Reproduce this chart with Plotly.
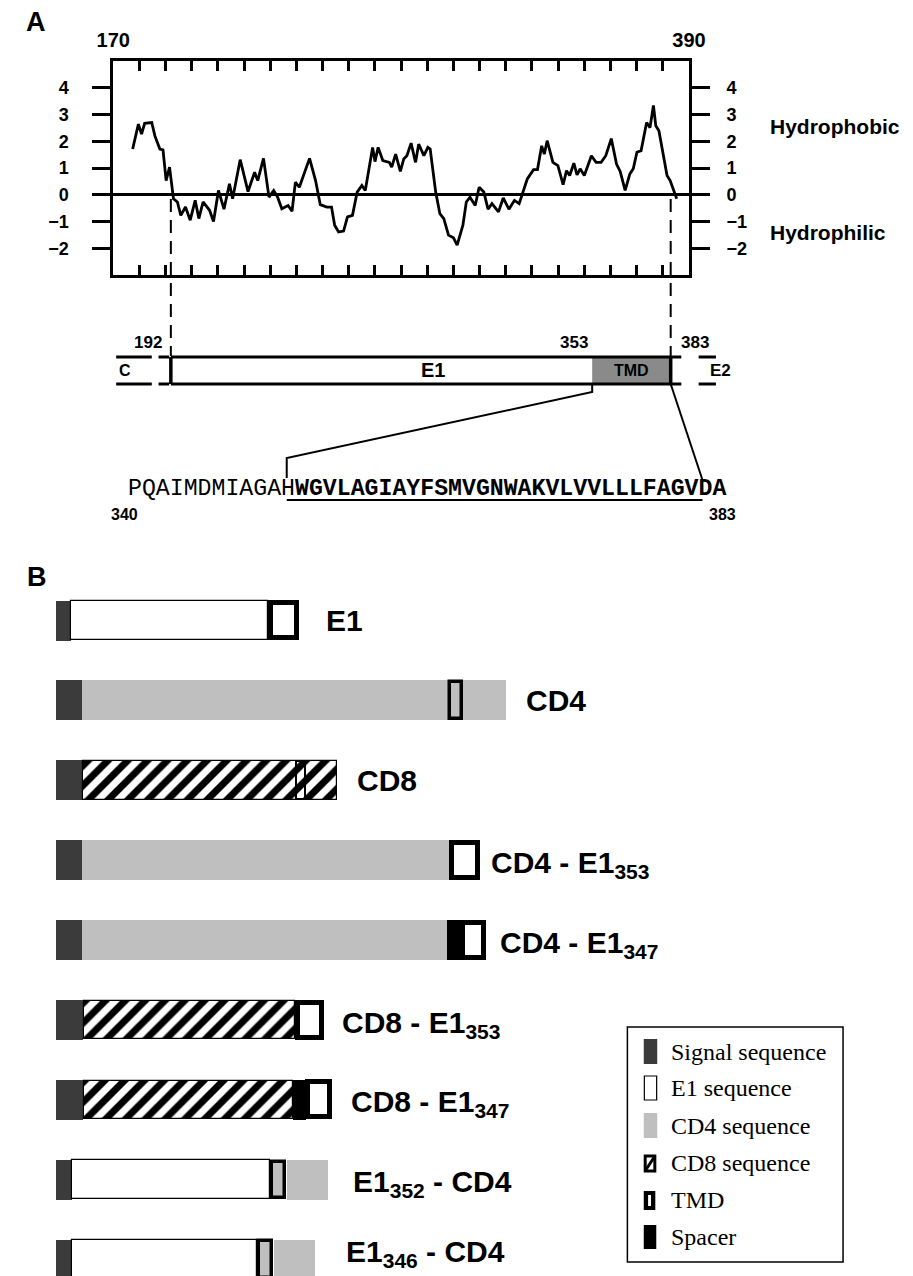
import plotly.graph_objects as go

W, H = 913, 1276
SANS = "Liberation Sans, Arial, Helvetica, sans-serif"
SERIF = "Liberation Serif, Times New Roman, serif"
MONO = "Liberation Mono, Courier New, monospace"

# ---------------- Panel A: hydropathy profile ----------------
hyd_res = [177.4, 179.6, 180.8, 182.0, 184.7, 185.9, 187.8, 189.0, 190.2, 191.5,
           193.0, 194.5, 195.8, 197.6, 199.4, 201.3, 202.7, 204.3, 206.8, 208.3,
           210.2, 212.3, 214.4, 215.6, 218.5, 221.5, 224.0, 225.2, 227.4, 229.5,
           231.3, 232.8, 234.4, 236.8, 238.3, 239.6, 241.1, 245.0, 247.3, 249.1,
           251.6, 253.4, 254.6, 256.1, 258.0, 259.5, 261.4, 263.2, 265.0, 266.3,
           269.1, 270.0, 271.2, 273.0, 275.5, 276.4, 277.9, 279.7, 281.0, 282.2,
           283.8, 285.5, 286.7, 288.7, 290.2, 291.1, 293.2, 294.8, 296.3, 298.1,
           300.0, 301.4, 303.6, 304.9, 306.3, 308.3, 309.8, 311.6, 313.2, 314.7,
           317.2, 319.0, 321.2, 323.3, 325.1, 328.2, 330.6, 332.1, 333.7, 334.7,
           335.8, 338.0, 339.9, 341.9, 343.2, 344.4, 346.0, 347.2, 348.4, 350.0,
           352.7, 354.5, 356.4, 358.2, 360.3, 362.3, 363.7, 365.6, 367.4, 368.7,
           370.1, 371.7, 373.8, 375.1, 376.4, 377.3, 378.5, 381.6, 382.8, 384.6,
           385.3]
hyd_val = [1.71, 2.64, 2.27, 2.67, 2.70, 2.20, 1.71, 1.68, 0.53, 1.03,
           -0.15, -0.27, -0.77, -0.46, -0.95, -0.21, -0.89, -0.27, -0.58, -1.00,
           0.16, -0.54, 0.41, -0.15, 1.31, 0.12, 0.84, 0.53, 1.36, -0.09,
           0.16, -0.09, -0.52, -0.40, -0.62, 0.47, 0.28, 1.36, 0.53, -0.37,
           -0.46, -0.46, -1.14, -1.39, -1.36, -0.83, -0.77, 0.10, 0.35, 0.16,
           1.77, 1.24, 1.77, 1.28, 1.21, 1.03, 1.52, 0.87, 1.34, 1.46,
           1.93, 1.21, 1.89, 1.46, 1.77, 1.71, 0.10, -0.71, -0.89, -1.51,
           -1.61, -1.88, -1.14, -0.27, -0.09, -0.40, 0.28, 0.10, -0.54, -0.33,
           -0.64, -0.12, -0.54, -0.21, -0.33, 0.59, 0.94, 0.94, 1.83, 1.52,
           2.02, 1.21, 1.09, 0.38, 0.90, 0.72, 1.18, 0.74, 0.97, 0.72,
           1.46, 1.21, 1.21, 1.46, 2.10, 1.15, 0.87, 0.16, 0.78, 0.97,
           1.59, 1.65, 2.70, 2.51, 3.34, 2.58, 2.39, 0.72, 0.53, -0.02,
           -0.15]
res_range = [170, 390]
hyd_range = [-3, 5]
hyd_ticks = [-2, -1, 0, 1, 2, 3, 4]
res_label_vals = [170, 390]
res_label_text = ["170", "390"]
res_minor_ticks = [180, 190, 200, 210, 220, 230, 240, 250, 260, 270, 280,
                   290, 300, 310, 320, 330, 340, 350, 360, 370, 380]
side_labels = ["Hydrophobic", "Hydrophilic"]

# E1 region map (residue boundaries)
map_bounds = [192, 353, 383]
map_names = ["C", "E1", "TMD", "E2"]
seq_plain = "PQAIMDMIAGAH"
seq_tmd = "WGVLAGIAYFSMVGNWAKVLVVLLLFAGVDA"
seq_ends = ["340", "383"]

# ---------------- Panel B: constructs ----------------
constructs = ["E1", "CD4", "CD8",
              "CD4 - E1<sub>353</sub>", "CD4 - E1<sub>347</sub>",
              "CD8 - E1<sub>353</sub>", "CD8 - E1<sub>347</sub>",
              "E1<sub>352</sub> - CD4", "E1<sub>346</sub> - CD4"]
signal_row = [0, 1, 2, 3, 4, 5, 6, 7, 8]
signal_start = [0, 0, 0, 0, 0, 0, 0, 0, 0]
signal_end = [15, 27, 27, 27, 27, 28, 28, 16, 16]
e1_row = [0, 7, 8]
e1_start = [15, 16, 16]
e1_end = [220, 222, 209]
cd4_row = [1, 3, 4, 7, 8]
cd4_start = [27, 27, 27, 239, 226]
cd4_end = [467, 408, 406, 282, 269]
cd8_row = [2, 5, 6]
cd8_start = [27, 28, 28]
cd8_end = [292, 248, 246]
spacer_row = [4, 6]
spacer_start = [406, 246]
spacer_end = [420, 259]
tmdE1_row = [0, 3, 4, 5, 6]
tmdE1_start = [220, 408, 420, 248, 259]
tmdE1_end = [252, 440, 447, 278, 287]
tmdCD4_row = [1, 7, 8]
tmdCD4_start = [407, 222, 209]
tmdCD4_end = [423, 239, 226]
tmdCD8_row = [2]
tmdCD8_start = [248]
tmdCD8_end = [259]
label_gap = [26, 19, 18, 9, 12, 17, 17, 24, 30]

legend_names = ["Signal sequence", "E1 sequence", "CD4 sequence",
                "CD8 sequence", "TMD", "Spacer"]

# ---------------- colours / geometry ----------------
C_SIGNAL = "#3b3b3b"
C_CD4 = "#bfbfbf"
C_TMDMAP = "#8a8a8a"

A_LEFT, A_RIGHT, A_TOP, A_BOTTOM = 100, 698, 61, 275
PPR = (A_RIGHT - A_LEFT) / (res_range[1] - res_range[0])
MAP_TOP, MAP_BOT = 357, 384
B_ORIGIN = 41
ROW0, PITCH, BAR_H = 620.5, 79.9, 40


def res_at(px):
    return res_range[0] + (px - A_LEFT) / PPR


def fx(px):
    return px / W


def fy(py):
    return 1 - py / H


fig = go.Figure()

# hydropathy curve
fig.add_trace(go.Scatter(x=hyd_res, y=hyd_val, mode="lines",
                         line=dict(color="black", width=2.8),
                         xaxis="x", yaxis="y", hoverinfo="skip"))
# helper invisible traces so the auxiliary axes exist
fig.add_trace(go.Scatter(x=[res_range[0]], y=[0], mode="markers",
                         marker=dict(opacity=0), xaxis="x", yaxis="y4",
                         hoverinfo="skip"))
fig.add_trace(go.Scatter(x=[map_bounds[0]], y=[0.5], mode="markers",
                         marker=dict(opacity=0), xaxis="x3", yaxis="y3",
                         hoverinfo="skip"))


def seg_trace(rows, starts, ends, inset=0.0, **marker):
    return go.Bar(
        y=rows,
        x=[e - s - 2 * inset for s, e in zip(starts, ends)],
        base=[s + inset for s in starts],
        width=[(BAR_H - 2 * inset) / PITCH] * len(rows),
        orientation="h", marker=marker, xaxis="x2", yaxis="y2",
        hoverinfo="skip")


hatch = dict(shape="/", fgcolor="black", fgopacity=1, bgcolor="white",
             size=14, solidity=0.5)
fig.add_trace(seg_trace(signal_row, signal_start, signal_end,
                        color=C_SIGNAL, line=dict(width=0)))
fig.add_trace(seg_trace(e1_row, e1_start, e1_end, inset=0.6,
                        color="white", line=dict(color="black", width=1.2)))
fig.add_trace(seg_trace(cd4_row, cd4_start, cd4_end,
                        color=C_CD4, line=dict(width=0)))
fig.add_trace(seg_trace(cd8_row, cd8_start, cd8_end, inset=0.6,
                        color="white", pattern=hatch,
                        line=dict(color="black", width=1.2)))
fig.add_trace(seg_trace(spacer_row, spacer_start, spacer_end,
                        color="black", line=dict(width=0)))
fig.add_trace(seg_trace(tmdCD4_row, tmdCD4_start, tmdCD4_end, inset=1.75,
                        color=C_CD4, line=dict(color="black", width=3.5)))
fig.add_trace(seg_trace(tmdCD8_row, tmdCD8_start, tmdCD8_end, inset=1.0,
                        color="white", pattern=hatch,
                        line=dict(color="black", width=2)))
fig.add_trace(seg_trace(tmdE1_row, tmdE1_start, tmdE1_end, inset=2.5,
                        color="white", line=dict(color="black", width=5)))

shapes = []
ann = []

# ---- dashed guide lines from the profile to the map
for r in (map_bounds[0], map_bounds[2]):
    shapes.append(dict(type="line", xref="x3", yref="paper", x0=r, x1=r,
                       y0=fy(199), y1=fy(MAP_TOP - 1),
                       line=dict(color="black", width=2, dash="13px,8px")))

# ---- E1 map
shapes.append(dict(type="rect", xref="x3", yref="paper",
                   x0=map_bounds[1], x1=map_bounds[2],
                   y0=fy(MAP_BOT), y1=fy(MAP_TOP),
                   fillcolor=C_TMDMAP, line=dict(width=0)))
for py in (MAP_TOP, MAP_BOT):
    segs = [(res_at(103), res_at(140)), (res_at(147), res_at(158)),
            (map_bounds[0], res_at(690)), (res_at(708), res_at(726))]
    for a, b in segs:
        shapes.append(dict(type="line", xref="x3", yref="paper", x0=a, x1=b,
                           y0=fy(py), y1=fy(py),
                           line=dict(color="black", width=3)))
for r in (map_bounds[0], map_bounds[2]):
    shapes.append(dict(type="line", xref="x3", yref="paper", x0=r, x1=r,
                       y0=fy(MAP_TOP), y1=fy(MAP_BOT),
                       line=dict(color="black", width=3.5)))

# ---- zoom lines to the TMD sequence
CHAR_W = 13.93
SEQ_X0 = 113
tmd_px0 = SEQ_X0 + len(seq_plain) * CHAR_W
tmd_px1 = SEQ_X0 + (len(seq_plain) + len(seq_tmd)) * CHAR_W
px353 = A_LEFT + (map_bounds[1] - res_range[0]) * PPR
px383 = A_LEFT + (map_bounds[2] - res_range[0]) * PPR
shapes.append(dict(type="path", xref="paper", yref="paper",
                   path="M {},{} L {},{} L {},{} L {},{}".format(
                       fx(px353), fy(MAP_BOT), fx(px353), fy(392),
                       fx(tmd_px0), fy(458), fx(tmd_px0), fy(478)),
                   line=dict(color="black", width=2)))
shapes.append(dict(type="line", xref="paper", yref="paper",
                   x0=fx(px383), y0=fy(MAP_BOT), x1=fx(tmd_px1), y1=fy(480),
                   line=dict(color="black", width=2)))
# underline of TMD residues
shapes.append(dict(type="line", xref="paper", yref="paper",
                   x0=fx(tmd_px0), x1=fx(tmd_px1), y0=fy(500), y1=fy(500),
                   line=dict(color="black", width=2)))

# ---- legend box
shapes.append(dict(type="rect", xref="paper", yref="paper",
                   x0=fx(634), x1=fx(858), y0=fy(1262), y1=fy(1027),
                   line=dict(color="black", width=1.5), fillcolor="rgba(0,0,0,0)"))
legend_y = [1052, 1088, 1126, 1163, 1200, 1237]
sw_x0, sw_x1 = 651, 665


def rect(x0, x1, y0, y1, fill, lw=0, lc="black"):
    shapes.append(dict(type="rect", xref="paper", yref="paper",
                       x0=fx(x0), x1=fx(x1), y0=fy(y1), y1=fy(y0),
                       fillcolor=fill, line=dict(color=lc, width=lw)))


rect(sw_x0, sw_x1, legend_y[0] - 13, legend_y[0] + 12, C_SIGNAL)
rect(sw_x0 + 0.6, sw_x1 - 0.6, legend_y[1] - 12, legend_y[1] + 12, "white", 1.2)
rect(sw_x0, sw_x1, legend_y[2] - 13, legend_y[2] + 12, C_CD4)
rect(sw_x0 + 1.5, sw_x1 - 2.5, legend_y[3] - 7, legend_y[3] + 8, "white", 3)
shapes.append(dict(type="line", xref="paper", yref="paper",
                   x0=fx(sw_x0 + 2), y0=fy(legend_y[3] + 7),
                   x1=fx(sw_x1 - 3), y1=fy(legend_y[3] - 6),
                   line=dict(color="black", width=3)))
rect(sw_x0, sw_x1 - 2, legend_y[4] - 9, legend_y[4] + 10, "black")
rect(sw_x0 + 4.5, sw_x1 - 6.5, legend_y[4] - 5, legend_y[4] + 6, "white")
rect(sw_x0, sw_x1 - 1, legend_y[5] - 12, legend_y[5] + 12, "black")

for name, yc in zip(legend_names, legend_y):
    ann.append(dict(x=fx(677), y=fy(yc), xref="paper", yref="paper",
                    text=name, showarrow=False, xanchor="left", yanchor="middle",
                    font=dict(family=SERIF, size=24, color="black")))

# ---- text labels panel A


def label(px, py, text, size, anchor="center", family=SANS, bold=True):
    ann.append(dict(x=fx(px), y=fy(py), xref="paper", yref="paper",
                    text=("<b>%s</b>" % text) if bold else text,
                    showarrow=False, xanchor=anchor, yanchor="middle",
                    font=dict(family=family, size=size, color="black")))


label(20, 22, "A", 27)
label(21, 577, "B", 27)
label(780, 127, side_labels[0], 21, "left")
label(780, 232, side_labels[1], 21, "left")

for txt, r, xa, xs in ((str(map_bounds[0]), map_bounds[0], "right", -7),
                       (str(map_bounds[1]), map_bounds[1], "right", -2),
                       (str(map_bounds[2]), map_bounds[2], "left", 8)):
    ann.append(dict(x=r, y=fy(342), xref="x3", yref="paper", text="<b>%s</b>" % txt,
                    showarrow=False, xanchor=xa, xshift=xs, yanchor="middle",
                    font=dict(family=SANS, size=17, color="black")))
map_label_x = [res_at(112), res_at(432), (map_bounds[1] + map_bounds[2]) / 2, res_at(731)]
map_label_size = [16, 20, 16, 17]
for name, xv, sz in zip(map_names, map_label_x, map_label_size):
    ann.append(dict(x=xv, y=fy(370), xref="x3", yref="paper",
                    text="<b>%s</b>" % name, showarrow=False,
                    xanchor="center", yanchor="middle",
                    font=dict(family=SANS, size=sz, color="black")))

ann.append(dict(x=fx(SEQ_X0), y=fy(489), xref="paper", yref="paper",
                text=seq_plain + "<b>" + seq_tmd + "</b>", showarrow=False,
                xanchor="left", yanchor="middle",
                font=dict(family=MONO, size=23.2, color="black")))
label(112, 514, seq_ends[0], 16)
label(733, 514, seq_ends[1], 16)

# ---- construct labels panel B
rows_all = [signal_row, e1_row, cd4_row, cd8_row, spacer_row, tmdE1_row, tmdCD4_row, tmdCD8_row]
ends_all = [signal_end, e1_end, cd4_end, cd8_end, spacer_end, tmdE1_end, tmdCD4_end, tmdCD8_end]
for i, name in enumerate(constructs):
    row_end = max(e for rr, ee in zip(rows_all, ends_all) for r, e in zip(rr, ee) if r == i)
    shift = -4 if "<sub>" in name else 0
    if i == len(constructs) - 1:
        shift = 6  # keep the last label inside the page
    ann.append(dict(x=row_end + label_gap[i], y=i, xref="x2", yref="y2",
                    text="<b>%s</b>" % name, showarrow=False,
                    xanchor="left", yanchor="middle", yshift=shift,
                    font=dict(family=SANS, size=30, color="black")))

axis_font = dict(family=SANS, size=18, color="black", weight="bold")
fig.update_layout(
    width=W, height=H, autosize=False,
    margin=dict(l=0, r=0, t=0, b=0, pad=0),
    paper_bgcolor="white", plot_bgcolor="rgba(0,0,0,0)",
    showlegend=False, barmode="overlay", bargap=0,
    font=dict(family=SANS, color="black"),
    xaxis=dict(domain=[fx(A_LEFT), fx(A_RIGHT)], range=res_range, anchor="y",
               side="top", ticks="", tickmode="array",
               tickvals=res_label_vals, ticktext=res_label_text,
               tickfont=dict(family=SANS, size=20, color="black", weight="bold"),
               ticklabelstandoff=3,
               minor=dict(tickmode="array", tickvals=res_minor_ticks, ticks="inside",
                          ticklen=10, tickwidth=3, tickcolor="black", showgrid=False),
               showline=True, linewidth=3, linecolor="black", mirror="allticks",
               showgrid=False, zeroline=False, fixedrange=True),
    yaxis=dict(domain=[fy(A_BOTTOM), fy(A_TOP)], range=hyd_range, anchor="x",
               ticks="outside", ticklen=18, tickwidth=3, tickcolor="black",
               tickvals=hyd_ticks, tickfont=axis_font, ticklabelstandoff=20,
               showline=True, linewidth=3, linecolor="black", mirror="allticks",
               showgrid=False, zeroline=True, zerolinewidth=3, zerolinecolor="black",
               fixedrange=True),
    yaxis4=dict(overlaying="y", side="right", anchor="x", range=hyd_range,
                ticks="outside", ticklen=18, tickwidth=3, tickcolor="black",
                tickvals=hyd_ticks, tickfont=axis_font, ticklabelstandoff=15,
                showline=False, showgrid=False, zeroline=False, fixedrange=True),
    xaxis2=dict(domain=[0, 1], range=[-B_ORIGIN, W - B_ORIGIN], anchor="y2",
                visible=False, fixedrange=True),
    yaxis2=dict(domain=[0, 1], range=[(H - ROW0) / PITCH, -ROW0 / PITCH], anchor="x2",
                visible=False, fixedrange=True),
    xaxis3=dict(domain=[0, 1], range=[res_at(0), res_at(W)], anchor="y3",
                visible=False, fixedrange=True),
    yaxis3=dict(domain=[0, 1], range=[0, 1], anchor="x3",
                visible=False, fixedrange=True),
    shapes=shapes, annotations=ann,
)

fig.write_html("out.html", config={"responsive": False})
